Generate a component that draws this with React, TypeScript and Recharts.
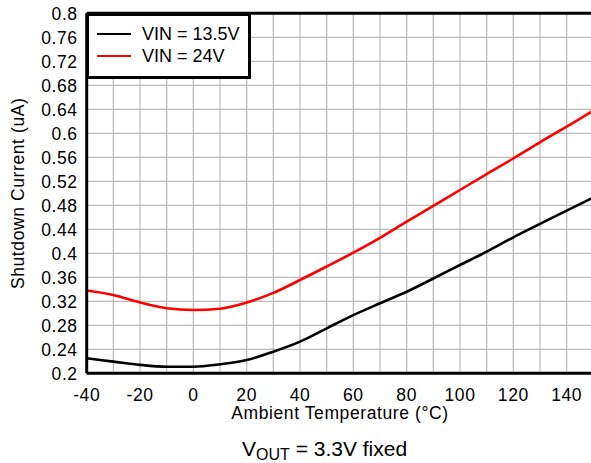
import React from "react";
import {
  LineChart,
  Line,
  XAxis,
  YAxis,
  CartesianGrid,
  Legend,
  ReferenceLine,
} from "recharts";

// Ambient temperature (°C), one point every 10 degrees
const temps = [-40, -30, -20, -10, 0, 10, 20, 30, 40, 50, 60, 70, 80, 90, 100, 110, 120, 130, 140, 150];

// Shutdown current (uA)
const vin135 = [0.225, 0.2195, 0.214, 0.211, 0.211, 0.215, 0.222, 0.236, 0.2527, 0.275, 0.297, 0.3167, 0.336, 0.358, 0.3805, 0.4027, 0.4267, 0.449, 0.471, 0.493];
const vin24 = [0.338, 0.3305, 0.318, 0.3083, 0.3055, 0.3077, 0.318, 0.334, 0.3555, 0.378, 0.401, 0.4257, 0.4527, 0.479, 0.5055, 0.532, 0.558, 0.585, 0.611, 0.638];

const xTicks = [-40, -20, 0, 20, 40, 60, 80, 100, 120, 140];
const xGrid = [-40, -30, -20, -10, 0, 10, 20, 30, 40, 50, 60, 70, 80, 90, 100, 110, 120, 130, 140, 150];
const yTicks = [0.2, 0.24, 0.28, 0.32, 0.36, 0.4, 0.44, 0.48, 0.52, 0.56, 0.6, 0.64, 0.68, 0.72, 0.76, 0.8];

const data = temps.map((t, i) => ({ temp: t, vin135: vin135[i], vin24: vin24[i] }));

const FONT = '"Liberation Sans", Arial, sans-serif';

const LegendBox = ({ payload }: { payload?: { value: string; color: string }[] }) => (
  <div
    style={{
      boxSizing: "border-box",
      width: 165,
      height: 66,
      border: "3px solid #000",
      background: "#fff",
      padding: "7px 0 0 8px",
      fontSize: 18,
      lineHeight: "22px",
    }}
  >
    {(payload || []).map((p) => (
      <div key={p.value} style={{ display: "flex", alignItems: "center" }}>
        <span style={{ display: "inline-block", width: 34, height: 2.5, background: p.color, marginRight: 11 }} />
        <span style={{ color: "#000" }}>{p.value}</span>
      </div>
    ))}
  </div>
);

export default function App() {
  return (
    <div
      style={{
        position: "fixed",
        left: 0,
        top: 0,
        width: 591,
        height: 463,
        overflow: "hidden",
        background: "#fff",
        fontFamily: FONT,
      }}
    >
      <LineChart
        width={600}
        height={463}
        data={data}
        margin={{ top: 13.3, right: 6.7, left: 0, bottom: 59.7 }}
      >
        <CartesianGrid stroke="#bdbdbd" strokeWidth={1.3} verticalValues={xGrid} horizontalValues={yTicks} />
        <XAxis
          type="number"
          dataKey="temp"
          domain={[-40, 150]}
          ticks={xTicks}
          interval={0}
          allowDataOverflow
          height={30}
          tickLine={false}
          tickSize={8}
          tickMargin={7}
          axisLine={{ stroke: "#000", strokeWidth: 3 }}
          tick={{ fill: "#000", fontSize: 17.5, letterSpacing: 0.6 }}
          label={{ value: "Ambient Temperature (°C)", position: "bottom", offset: 3.5, fill: "#000", fontSize: 17.5, style: { letterSpacing: 0.6 } }}
        />
        <YAxis
          type="number"
          domain={[0.2, 0.8]}
          ticks={yTicks}
          interval={0}
          allowDataOverflow
          width={86.7}
          tickLine={false}
          tickSize={4}
          tickMargin={5}
          axisLine={{ stroke: "#000", strokeWidth: 3 }}
          tick={{ fill: "#000", fontSize: 17.5, letterSpacing: 0.6 }}
          tickFormatter={(v) => String(v)}
          label={{
            value: "Shutdown Current (uA)",
            angle: -90,
            position: "insideLeft",
            offset: 18,
            fill: "#000",
            fontSize: 17.5,
            style: { textAnchor: "middle", letterSpacing: 0.6 },
          }}
        />
        <ReferenceLine y={0.8} stroke="#000" strokeWidth={3} ifOverflow="visible" />
        <Legend
          layout="horizontal"
          verticalAlign="middle"
          align="center"
          content={<LegendBox />}
          wrapperStyle={{ top: 13, left: 86, width: 165, height: 66 }}
        />
        <Line
          type="monotone"
          dataKey="vin135"
          name="VIN = 13.5V"
          stroke="#000"
          strokeWidth={2.6}
          dot={false}
          isAnimationActive={false}
        />
        <Line
          type="monotone"
          dataKey="vin24"
          name="VIN = 24V"
          stroke="#ff0000"
          strokeWidth={2.6}
          dot={false}
          isAnimationActive={false}
        />
      </LineChart>
      <div
        style={{
          position: "absolute",
          left: 242,
          top: 436.7,
          fontSize: 21,
          lineHeight: "24px",
          color: "#000",
          whiteSpace: "nowrap",
        }}
      >
        V<span style={{ fontSize: 16, position: "relative", top: 4 }}>OUT</span> = 3.3V fixed
      </div>
    </div>
  );
}
